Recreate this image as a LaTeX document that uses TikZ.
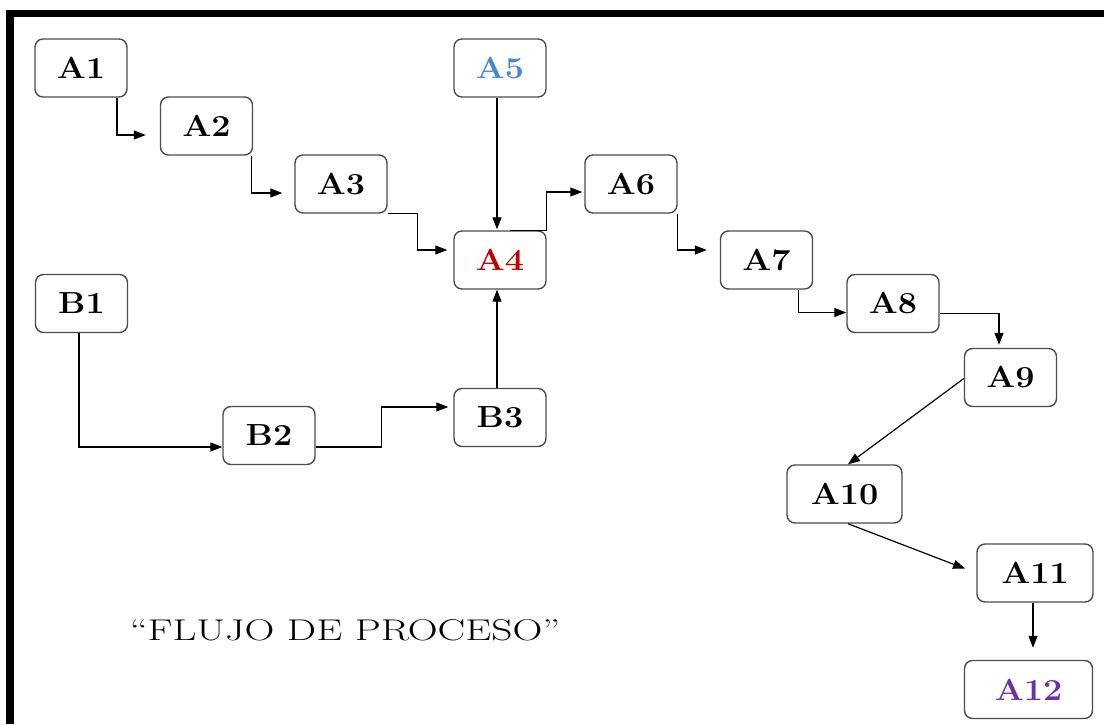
\documentclass[tikz,border=0pt]{standalone}
\usepackage{graphicx}
\usetikzlibrary{arrows.meta,calc}
\definecolor{afourred}{HTML}{C00000}
\definecolor{afiveblue}{HTML}{4A86CF}
\definecolor{atwelvepurple}{HTML}{7030A0}
\newcommand{\lbl}[1]{\scalebox{1.12}[1]{#1}}
\begin{document}
\begin{tikzpicture}[x=1pt,y=-1pt,
  box/.style={draw=black!70,line width=1.4pt,rounded corners=8pt,minimum width=92pt,minimum height=58pt,inner sep=0pt,font=\fontsize{30.5}{32}\selectfont\bfseries},
  conn/.style={line width=1.2pt,-{Triangle[length=12pt,width=9pt]}}]
\useasboundingbox (0,0) rectangle (1104,724);
\fill (6,10) rectangle (1104,17);
\fill (6,10) rectangle (14,724);
\node[box] (A1) at (81,68) {\lbl{A1}};
\node[box] (A2) at (206.5,126) {\lbl{A2}};
\node[box] (A3) at (341,184) {\lbl{A3}};
\node[box,text=afourred] (A4) at (500,260) {\lbl{A4}};
\node[box,text=afiveblue] (A5) at (500,68) {\lbl{A5}};
\node[box] (A6) at (631,184) {\lbl{A6}};
\node[box] (A7) at (766.5,260) {\lbl{A7}};
\node[box] (A8) at (893,303.5) {\lbl{A8}};
\node[box] (A9) at (1010.5,377.5) {\lbl{A9}};
\node[box,minimum width=115pt] (A10) at (844.5,494) {\lbl{A10}};
\node[box,minimum width=116pt] (A11) at (1035,573) {\lbl{A11}};
\node[box,minimum width=128pt,text=atwelvepurple] (A12) at (1028.5,689.5) {\lbl{A12}};
\node[box] (B1) at (81.5,303.5) {\lbl{B1}};
\node[box] (B2) at (269,435.5) {\lbl{B2}};
\node[box] (B3) at (500,417.5) {\lbl{B3}};
\node[font=\fontsize{30}{32}\selectfont] (T) at (345,630) {\scalebox{1.38}[1]{``FLUJO DE PROCESO''}};
\draw[conn,shorten >=14pt] ([xshift=36pt]A1.south) |- ([yshift=-9pt]A2.west);
\draw[conn,shorten >=12pt] ([xshift=45pt]A2.south) |- ([yshift=-9pt]A3.west);
\draw[conn,shorten >=6pt] (A3.south east) -- ++(30,0) |- ([yshift=10pt]A4.west);
\draw[conn,shorten >=1pt] ([xshift=-3pt]A5.south) -- ([xshift=-3pt]A4.north);
\draw[conn,shorten >=2pt] ([xshift=10pt]A4.north) -- (A4.north east) |- ([yshift=-8pt]A6.west);
\draw[conn,shorten >=13pt] (A6.south east) |- ([yshift=10pt]A7.west);
\draw[conn] ([xshift=32pt]A7.south) |- ([yshift=-9pt]A8.west);
\draw[conn,shorten >=3pt] ([yshift=-10pt]A8.east) -| ([xshift=-11.5pt]A9.north);
\draw[conn] ([yshift=-1pt]A9.west) -- ([xshift=3.5pt]A10.north);
\draw[conn,shorten >=12pt] ([xshift=3.5pt]A10.south) -- (A11.west);
\draw[conn,shorten >=12pt] ([xshift=-2pt]A11.south) -- ([xshift=4.5pt]A12.north);
\draw[conn] ([xshift=-2.5pt]B1.south) |- ([yshift=-11.5pt]B2.west);
\draw[conn,shorten >=5pt] ([yshift=-11.5pt]B2.east) -- ++(66,0) |- ([yshift=10.5pt]B3.west);
\draw[conn] ([xshift=-3pt]B3.north) -- ([xshift=-3pt]A4.south);
\end{tikzpicture}
\end{document}
